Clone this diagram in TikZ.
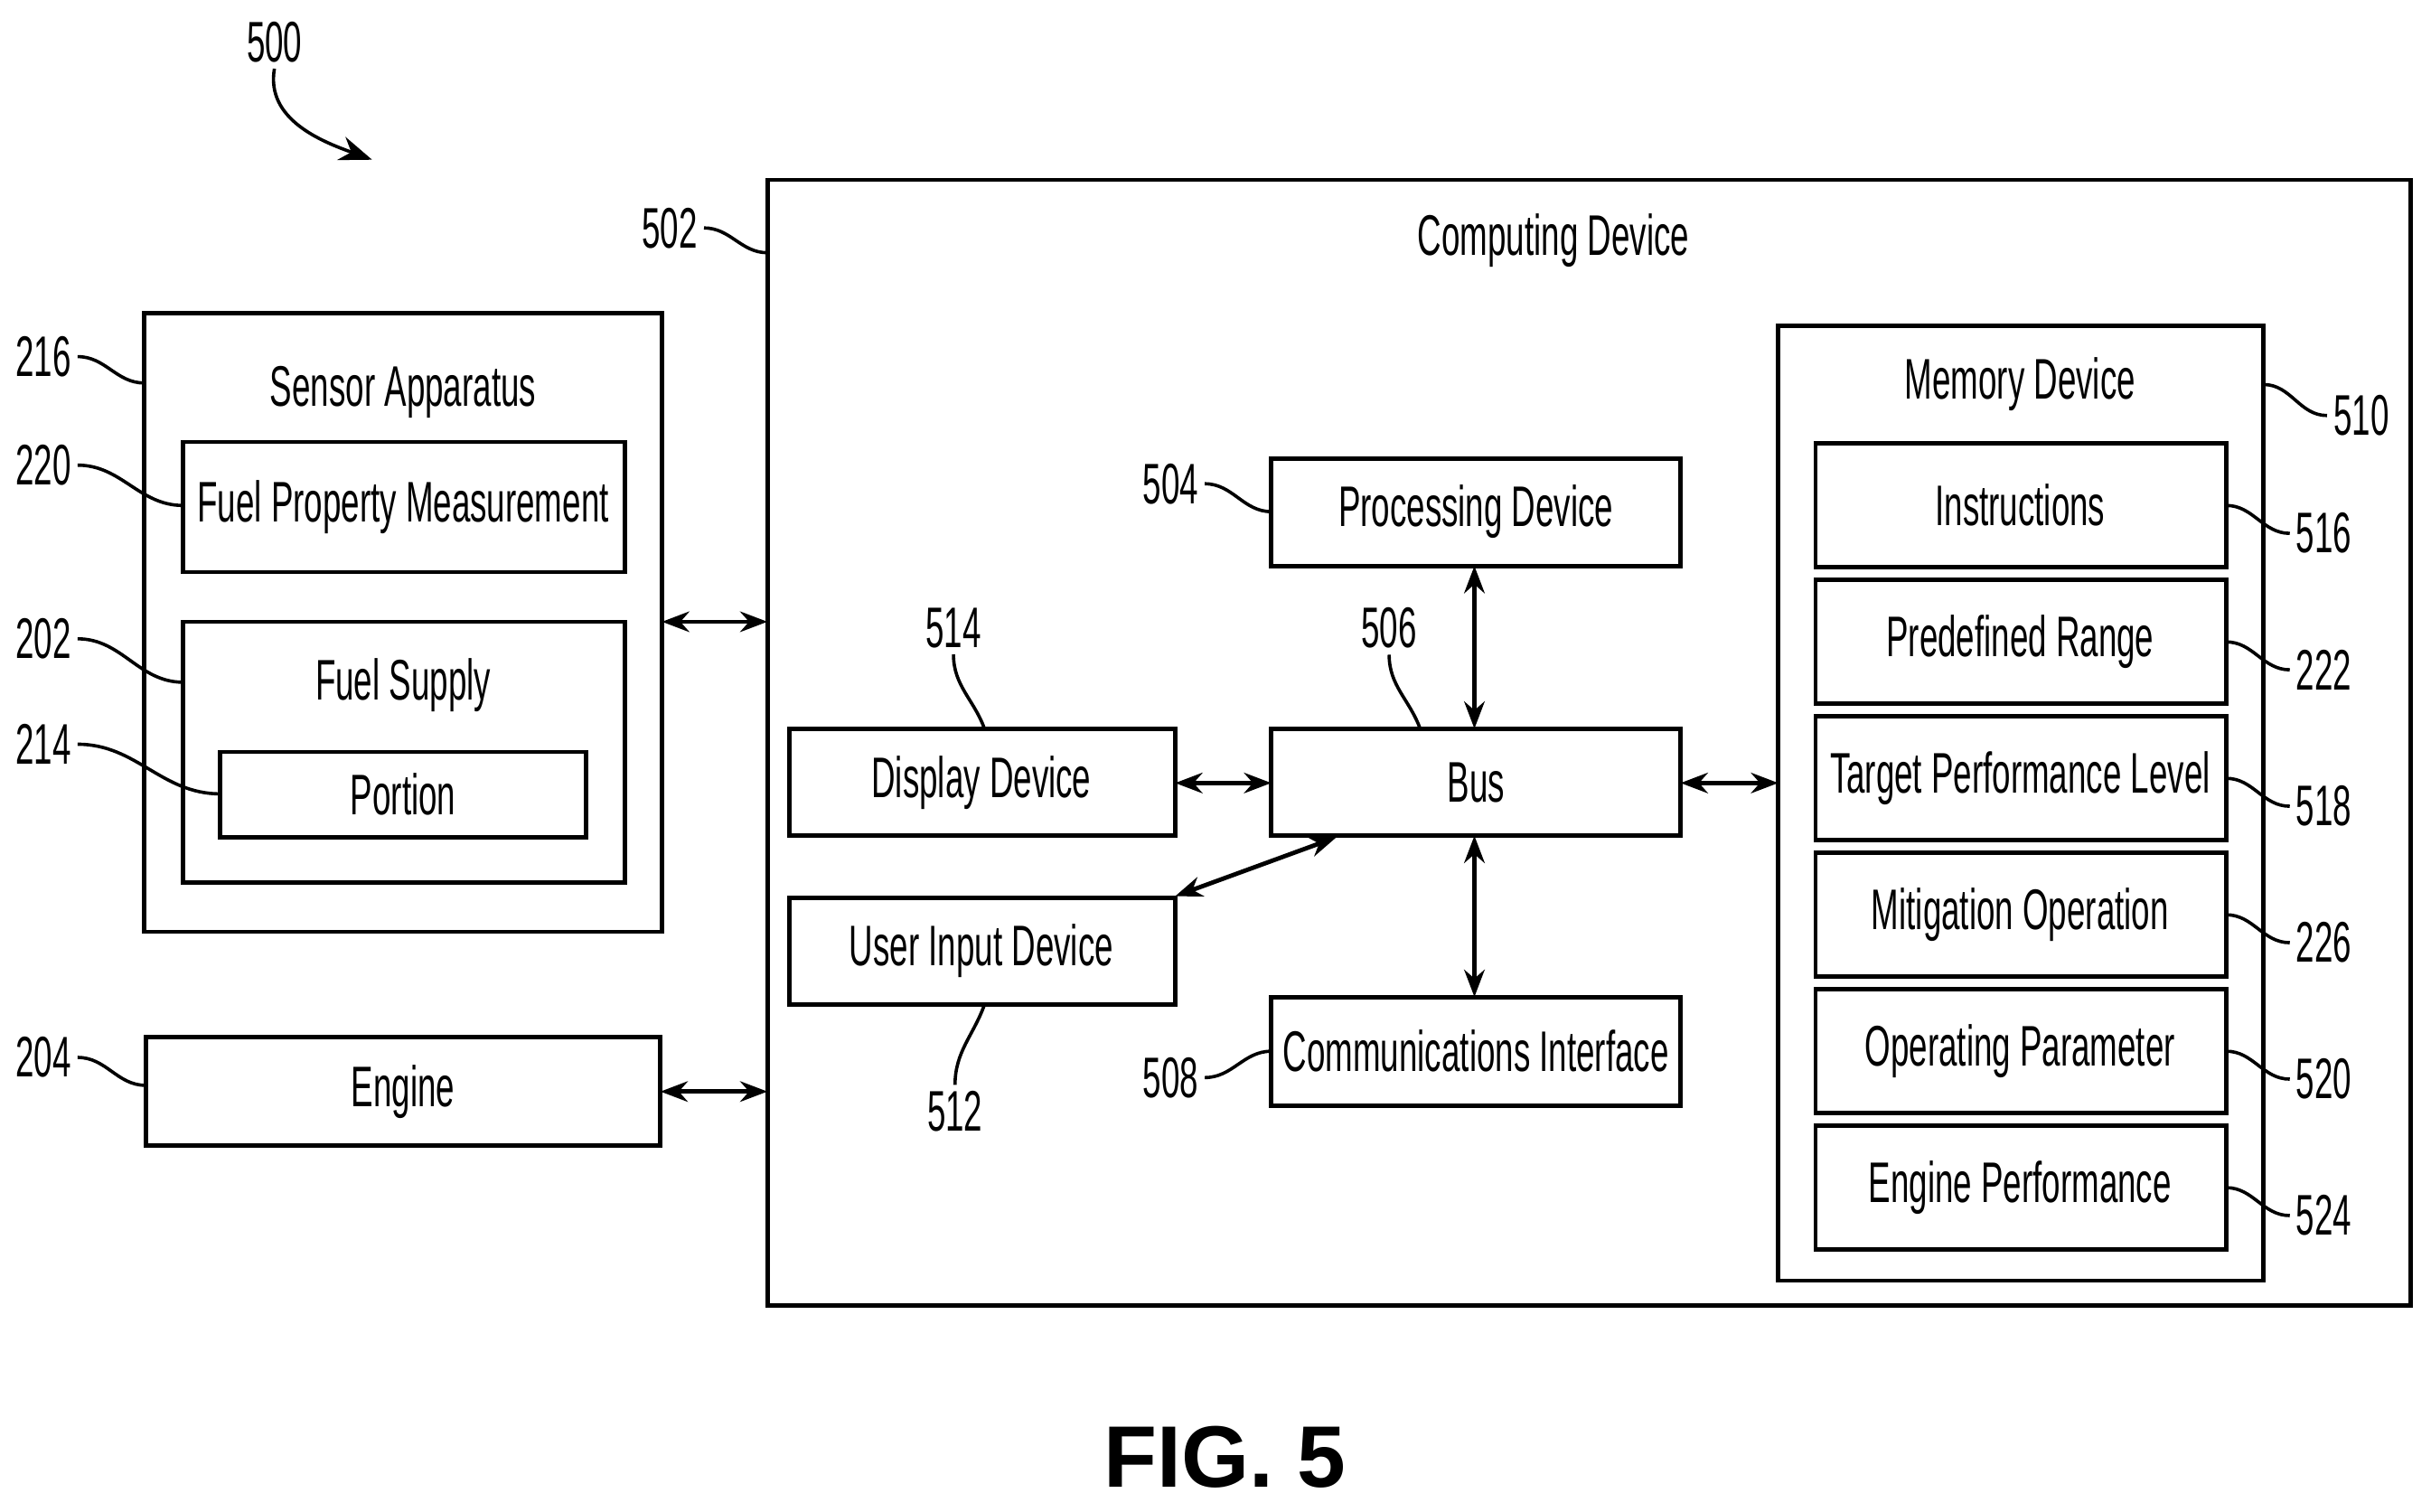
\documentclass[tikz,border=0pt]{standalone}
\usepackage{fontspec}
\setmainfont[FakeStretch=0.58]{Liberation Sans}
\newfontfamily\figfont{Liberation Sans}
\usetikzlibrary{arrows.meta}
\begin{document}
\begin{tikzpicture}[x=0.01cm,y=-0.01cm,
  box/.style={draw,line width=0.8pt},
  txt/.style={font=\fontsize{10.5}{12}\selectfont},
  num/.style={font=\fontsize{10.5}{12}\selectfont,inner sep=1pt},
  lead/.style={line width=0.6pt},
  dbl/.style={line width=0.8pt,{Stealth[length=5pt]}-{Stealth[length=5pt]}}]
\useasboundingbox (0,0) rectangle (1568,975);

% Outer boxes
\draw[box] (495,116) rectangle (1555,842);
\node[txt] (comptitle) at (1002,155) {Computing Device};
\draw[box] (93,202) rectangle (427,601);
\node[txt] (senstitle) at (260,253) {Sensor Apparatus};
\draw[box] (118,285) rectangle (403,369);
\node[txt] (fpm) at (260,327) {Fuel Property Measurement};
\draw[box] (118,401) rectangle (403,569);
\node[txt] (fstitle) at (260,442) {Fuel Supply};
\draw[box] (142,485) rectangle (378,540);
\node[txt] (portion) at (260,512) {Portion};
\draw[box] (94,669) rectangle (426,739);
\node[txt] (engine) at (260,704) {Engine};

% Computing device parts
\draw[box] (820,296) rectangle (1084,365);
\node[txt] (proc) at (952,330) {Processing Device};
\draw[box] (820,470) rectangle (1084,539);
\node[txt] (bus) at (952,505) {Bus};
\draw[box] (509,470) rectangle (758,539);
\node[txt] (disp) at (633,505) {Display Device};
\draw[box] (509,579) rectangle (758,648);
\node[txt] (uid) at (633,613) {User Input Device};
\draw[box] (820,643) rectangle (1084,713);
\node[txt] (comm) at (952,678) {Communications Interface};

% Memory device
\draw[box] (1147,210) rectangle (1460,826);
\node[txt] (memtitle) at (1303,248) {Memory Device};
\foreach \y/\t/\n [count=\i] in {286/Instructions/516,374/Predefined Range/222,
    462/Target Performance Level/518,550/Mitigation Operation/226,
    638/Operating Parameter/520,726/Engine Performance/524}{
  \draw[box] (1171,\y) rectangle (1436,\y+80);
  \node[txt] (mem\i) at (1303,\y+40) {\t};
  \node[num] (n\n) at (1499,\y+58) {\n};
  \draw[lead] (1436,\y+40) to[out=0,in=180] (n\n.west);
}

% Connectors
\coordinate (sensR) at (427,401);
\coordinate (compL1) at (495,401);
\coordinate (engR) at (426,704);
\coordinate (compL2) at (495,704);
\coordinate (procB) at (951,365);
\coordinate (busT) at (951,470);
\coordinate (busB) at (951,539);
\coordinate (commT) at (951,643);
\coordinate (dispR) at (758,505);
\coordinate (busL) at (820,505);
\coordinate (uidR) at (758,578);
\coordinate (busBL) at (862,540);
\coordinate (busR) at (1084,505);
\coordinate (memL) at (1147,505);
\draw[dbl] (sensR) -- (compL1);
\draw[dbl] (engR) -- (compL2);
\draw[dbl] (procB) -- (busT);
\draw[dbl] (busB) -- (commT);
\draw[dbl] (dispR) -- (busL);
\draw[dbl] (uidR) -- (busBL);
\draw[dbl] (busR) -- (memL);

% Reference numerals
\node[num] (n500) at (177,27) {500};
\draw[lead,-{Stealth[length=6pt]}] (n500.south) to[out=-100,in=160] (240,103);
\node[num] (n502) at (432,147) {502};
\draw[lead] (n502.east) to[out=0,in=180] (495,163);
\node[num] (n216) at (28,230) {216};
\draw[lead] (n216.east) to[out=0,in=180] (93,247);
\node[num] (n220) at (28,300) {220};
\draw[lead] (n220.east) to[out=0,in=180] (118,326);
\node[num] (n202) at (28,412) {202};
\draw[lead] (n202.east) to[out=0,in=180] (118,440);
\node[num] (n214) at (28,480) {214};
\draw[lead] (n214.east) to[out=0,in=180] (142,512);
\node[num] (n204) at (28,682) {204};
\draw[lead] (n204.east) to[out=0,in=180] (94,700);
\node[num] (n504) at (755,312) {504};
\draw[lead] (n504.east) to[out=0,in=180] (820,330);
\node[num] (n514) at (615,405) {514};
\draw[lead] (n514.south) to[out=-90,in=110] (635,470);
\node[num] (n506) at (896,405) {506};
\draw[lead] (n506.south) to[out=-90,in=110] (916,470);
\node[num] (n512) at (616,717) {512};
\draw[lead] (n512.north) to[out=90,in=-110] (635,648);
\node[num] (n508) at (755,695) {508};
\draw[lead] (n508.east) to[out=0,in=180] (820,678);
\node[num] (n510) at (1523,268) {510};
\draw[lead] (n510.west) to[out=180,in=0] (1460,248);

\node[font=\figfont\bfseries\fontsize{16}{18}\selectfont] (fig) at (790,940) {FIG. 5};
\end{tikzpicture}
\end{document}
